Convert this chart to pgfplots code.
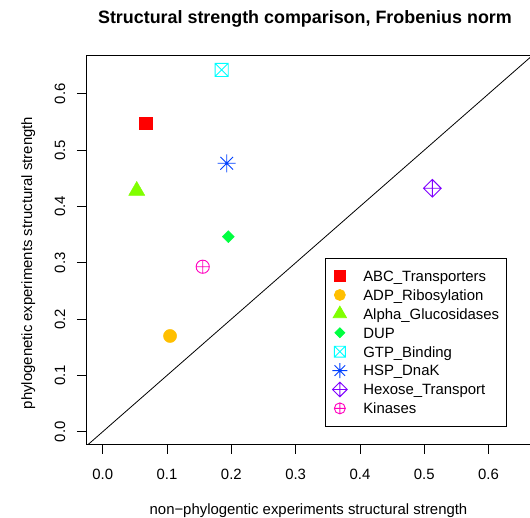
\documentclass[border=0pt]{standalone}
\usepackage{pgfplots}
\pgfplotsset{compat=1.18}
\usepackage{fontspec}
\setmainfont{Liberation Sans}

\definecolor{cABC}{HTML}{FF0000}
\definecolor{cADP}{HTML}{FFBF00}
\definecolor{cAlpha}{HTML}{80FF00}
\definecolor{cDUP}{HTML}{00FF40}
\definecolor{cGTP}{HTML}{00FFFF}
\definecolor{cHSP}{HTML}{0040FF}
\definecolor{cHex}{HTML}{8000FF}
\definecolor{cKin}{HTML}{FF00BF}

\pgfdeclareplotmark{boxx}{%
  \pgfpathrectangle{\pgfqpoint{-\pgfplotmarksize}{-\pgfplotmarksize}}{\pgfqpoint{2\pgfplotmarksize}{2\pgfplotmarksize}}%
  \pgfpathmoveto{\pgfqpoint{-\pgfplotmarksize}{-\pgfplotmarksize}}%
  \pgfpathlineto{\pgfqpoint{\pgfplotmarksize}{\pgfplotmarksize}}%
  \pgfpathmoveto{\pgfqpoint{-\pgfplotmarksize}{\pgfplotmarksize}}%
  \pgfpathlineto{\pgfqpoint{\pgfplotmarksize}{-\pgfplotmarksize}}%
  \pgfusepathqstroke}
\pgfdeclareplotmark{star8}{%
  \pgfpathmoveto{\pgfqpoint{-\pgfplotmarksize}{0pt}}%
  \pgfpathlineto{\pgfqpoint{\pgfplotmarksize}{0pt}}%
  \pgfpathmoveto{\pgfqpoint{0pt}{-\pgfplotmarksize}}%
  \pgfpathlineto{\pgfqpoint{0pt}{\pgfplotmarksize}}%
  \pgfpathmoveto{\pgfqpoint{-0.7071\pgfplotmarksize}{-0.7071\pgfplotmarksize}}%
  \pgfpathlineto{\pgfqpoint{0.7071\pgfplotmarksize}{0.7071\pgfplotmarksize}}%
  \pgfpathmoveto{\pgfqpoint{-0.7071\pgfplotmarksize}{0.7071\pgfplotmarksize}}%
  \pgfpathlineto{\pgfqpoint{0.7071\pgfplotmarksize}{-0.7071\pgfplotmarksize}}%
  \pgfusepathqstroke}
\pgfdeclareplotmark{diamondplus}{%
  \pgfpathmoveto{\pgfqpoint{0pt}{\pgfplotmarksize}}%
  \pgfpathlineto{\pgfqpoint{\pgfplotmarksize}{0pt}}%
  \pgfpathlineto{\pgfqpoint{0pt}{-\pgfplotmarksize}}%
  \pgfpathlineto{\pgfqpoint{-\pgfplotmarksize}{0pt}}%
  \pgfpathclose
  \pgfpathmoveto{\pgfqpoint{-\pgfplotmarksize}{0pt}}%
  \pgfpathlineto{\pgfqpoint{\pgfplotmarksize}{0pt}}%
  \pgfpathmoveto{\pgfqpoint{0pt}{-\pgfplotmarksize}}%
  \pgfpathlineto{\pgfqpoint{0pt}{\pgfplotmarksize}}%
  \pgfusepathqstroke}
\pgfdeclareplotmark{circleplus}{%
  \pgfpathcircle{\pgfpointorigin}{\pgfplotmarksize}%
  \pgfpathmoveto{\pgfqpoint{-\pgfplotmarksize}{0pt}}%
  \pgfpathlineto{\pgfqpoint{\pgfplotmarksize}{0pt}}%
  \pgfpathmoveto{\pgfqpoint{0pt}{-\pgfplotmarksize}}%
  \pgfpathlineto{\pgfqpoint{0pt}{\pgfplotmarksize}}%
  \pgfusepathqstroke}

\newcommand{\fs}{\fontsize{14.9bp}{17bp}\selectfont}

\pgfplotsset{
  lg/.style={legend image code/.code={%
    \path[draw=none, fill=none] (-6bp,-4bp) rectangle (6bp,4bp);
    \draw[##1, only marks, every mark/.append style={scale=0.83}] plot coordinates {(0bp,0bp)};}},
}

\begin{document}
\begin{tikzpicture}
\useasboundingbox (0,0) rectangle (530bp,518bp);
\begin{axis}[
  at={(86bp,73.5bp)}, anchor=south west,
  width=445bp, height=389.5bp, scale only axis,
  xmin=-0.026, xmax=0.666, ymin=-0.0227, ymax=0.669,
  axis line style={line width=0.8bp, black},
  tick pos=left, tick align=outside, major tick length=9bp,
  tick style={line width=0.8bp, black},
  xtick={0,0.1,0.2,0.3,0.4,0.5,0.6},
  ytick={0,0.1,0.2,0.3,0.4,0.5,0.6},
  xticklabels={0.0,0.1,0.2,0.3,0.4,0.5,0.6},
  yticklabels={0.0,0.1,0.2,0.3,0.4,0.5,0.6},
  tick label style={font=\fs},
  xticklabel style={anchor=base, yshift=-25.8bp},
  yticklabel style={xshift=-12bp, rotate=90, anchor=base},
  xlabel={non−phylogentic experiments structural strength},
  ylabel={phylogenetic experiments structural strength},
  every axis x label/.style={at={(axis description cs:0.5,0)}, anchor=base, yshift=-70bp, font=\fs},
  every axis y label/.style={at={(axis description cs:0,0.466)}, xshift=-54bp, rotate=90, anchor=base, font=\fs},
  title={Structural strength comparison, Frobenius norm},
  every axis title/.style={at={(axis description cs:0.492,1)}, anchor=base, yshift=31bp, font=\bfseries\fontsize{17.9bp}{20bp}\selectfont},
  legend style={at={(0.537,0.4795)}, anchor=north west, draw=black, line width=0.8bp, fill=white,
     inner xsep=7bp, inner ysep=8.5bp, column sep=16bp, row sep=0pt, font=\fs,
     nodes={inner sep=0pt, text height=14.8bp, text depth=4.1bp}},
  legend cell align=left,
]
\addplot[black, line width=0.8bp, forget plot] coordinates {(-0.1,-0.1) (0.8,0.8)};

\addplot[only marks, lg, color=cABC, mark=square*, mark size=6.3bp] coordinates {(0.0669,0.5478)};
\addlegendentry{ABC\_Transporters}
\addplot[only marks, lg, color=cADP, mark=*, mark size=6.6bp] coordinates {(0.1047,0.170)};
\addlegendentry{ADP\_Ribosylation}
\addplot[only marks, lg, color=cAlpha, mark=triangle*, mark size=9.3bp] coordinates {(0.0529,0.428)};
\addlegendentry{Alpha\_Glucosidases}
\addplot[only marks, lg, color=cDUP, mark=square*, mark size=4.25bp, mark options={rotate=45}] coordinates {(0.1953,0.3464)};
\addlegendentry{DUP}
\addplot[only marks, lg, color=cGTP, mark=boxx, mark size=6.6bp, line width=0.9bp] coordinates {(0.185,0.6425)};
\addlegendentry{GTP\_Binding}
\addplot[only marks, lg, color=cHSP, mark=star8, mark size=9bp, line width=0.9bp] coordinates {(0.1928,0.4767)};
\addlegendentry{HSP\_DnaK}
\addplot[only marks, lg, color=cHex, mark=diamondplus, mark size=8.8bp, line width=0.9bp] coordinates {(0.5126,0.4323)};
\addlegendentry{Hexose\_Transport}
\addplot[only marks, lg, color=cKin, mark=circleplus, mark size=6.6bp, line width=0.9bp] coordinates {(0.1555,0.293)};
\addlegendentry{Kinases}
\end{axis}
\end{tikzpicture}
\end{document}
